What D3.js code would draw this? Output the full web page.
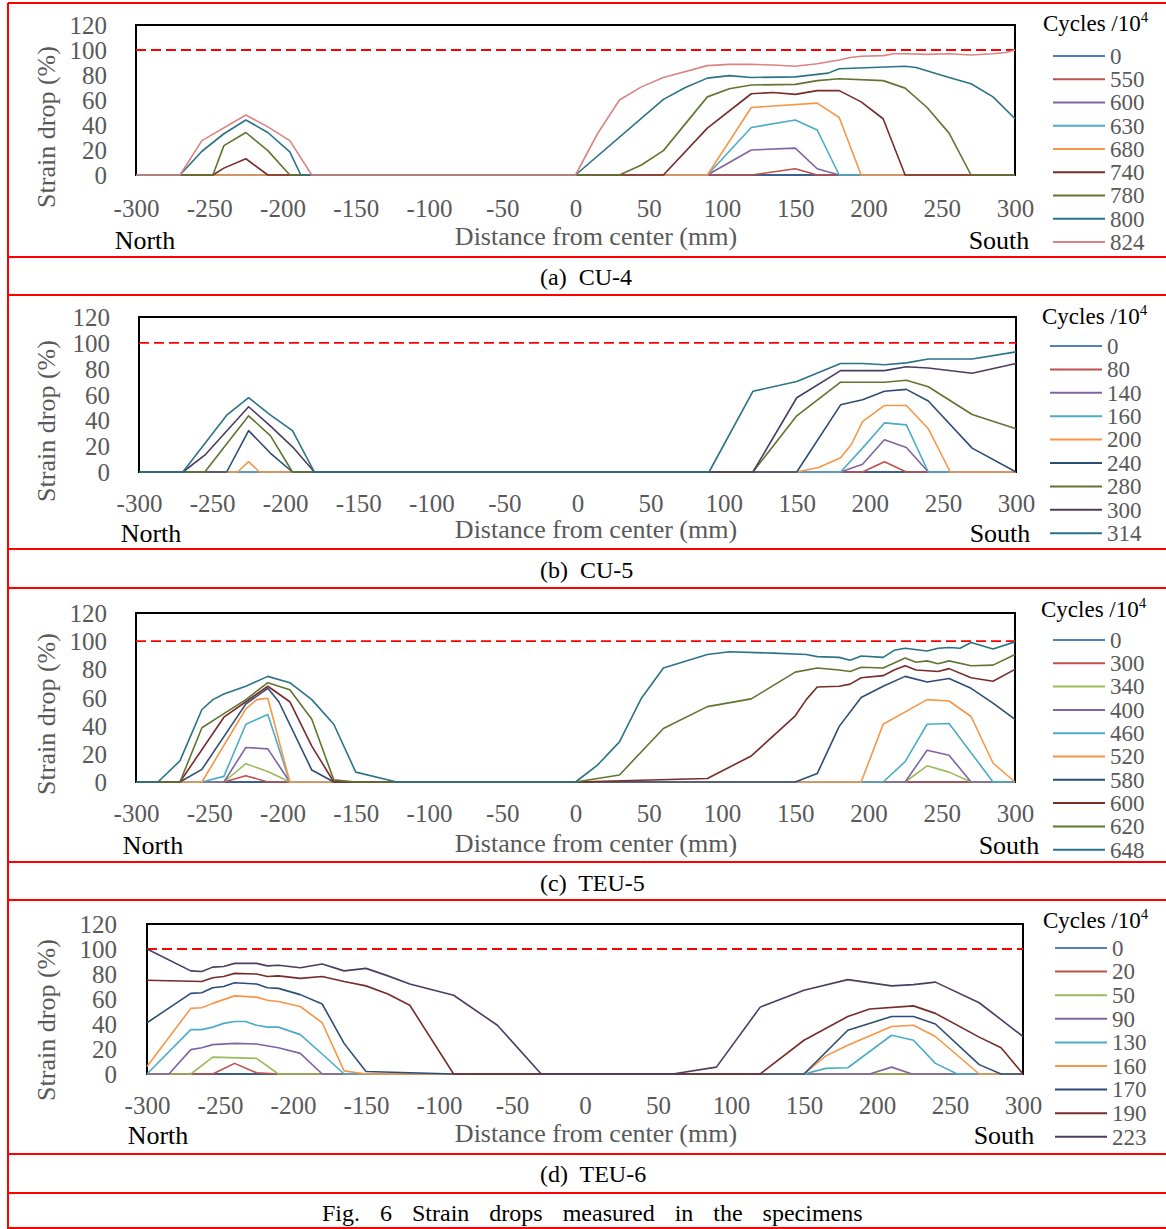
<!DOCTYPE html>
<html><head><meta charset="utf-8">
<script src="https://cdn.jsdelivr.net/npm/d3@7"></script>
<style>
body{margin:0;background:#fff}
svg{display:block}
text{font-family:"Liberation Serif","Times New Roman",serif;white-space:pre}
</style>
</head><body>
<svg id="c" width="1166" height="1229"></svg>
<script>
// ---------- shared axis values ----------
const xTicks = [-300,-250,-200,-150,-100,-50,0,50,100,150,200,250,300];
const yTicks = [0,20,40,60,80,100,120];
const limitValue = 100;

// ---------- (a) CU-4 ----------
const cu4Cycles = ["0","550","600","630","680","740","780","800","824"];
const cu4Series = [
  [[-300,0],[300,0]],
  [[-300,0],[120,0],[150,5],[165,0],[300,0]],
  [[-300,0],[90,0],[120,20],[150,21.5],[165,5],[180,0],[300,0]],
  [[-300,0],[90,0],[120,38],[150,44],[165,36],[180,0],[300,0]],
  [[-300,0],[90,0],[120,54],[165,57.5],[180,46],[195,0],[300,0]],
  [[-300,0],[-247.5,0],[-240,5.5],[-225,13],[-210,0],[60,0],[90,37.5],[120,65],[135,66],[150,64.5],[165,67.5],[180,67.5],[195,58.5],[210,45],[225,0],[300,0]],
  [[-300,0],[-247.5,0],[-240,23.5],[-225,34],[-210,19.5],[-195,0],[30,0],[45,8],[60,19.5],[90,62.5],[105,69],[120,72],[150,72.5],[165,75.5],[180,77],[210,75.5],[225,69.5],[240,54],[255,33.5],[270,0],[300,0]],
  [[-300,0],[-270,0],[-255,19],[-240,33],[-225,44],[-210,34],[-195,18.5],[-187.5,0],[0,0],[60,60.5],[75,70],[90,77.5],[105,79.5],[120,78],[150,78.5],[172.5,81.5],[180,85],[225,87],[232.5,86],[255,78],[270,73],[285,62.5],[300,45]],
  [[-300,0],[-270,0],[-255,27.5],[-225,48],[-210,38.5],[-195,27.5],[-180,0],[0,0],[15,33],[30,60],[45,70.5],[60,78],[90,87.5],[105,88.5],[120,88.5],[135,88],[150,87],[165,89],[180,92],[187.5,94],[195,95],[210,95.5],[217.5,97],[225,97],[240,96.5],[255,97],[270,96],[285,97],[294,98],[300,100]]
];

// ---------- (b) CU-5 ----------
const cu5Cycles = ["0","80","140","160","200","240","280","300","314"];
const cu5Series = [
  [[-300,0],[300,0]],
  [[-300,0],[195,0],[210,8],[225,0],[300,0]],
  [[-300,0],[180,0],[195,6],[210,25],[225,19],[240,0],[300,0]],
  [[-300,0],[180,0],[195,18.5],[210,38],[225,36.5],[240,0],[300,0]],
  [[-300,0],[-232.5,0],[-225,8],[-217.5,0],[150,0],[165,3.5],[180,11],[187.5,21.5],[195,39],[210,51.5],[225,51.5],[240,33.5],[255,0],[300,0]],
  [[-300,0],[-240,0],[-225,32],[-210,14.5],[-195,0],[150,0],[180,52],[195,56],[210,62.5],[225,64],[240,55],[270,18.5],[300,0]],
  [[-300,0],[-255,0],[-225,43.5],[-210,28],[-195,0],[120,0],[150,43.5],[180,69.5],[210,69.5],[225,71],[240,66],[270,44.5],[300,33.5]],
  [[-300,0],[-270,0],[-255,13],[-225,50.5],[-210,35.5],[-195,19.5],[-180,0],[120,0],[150,57.5],[180,78.5],[210,78.5],[225,81.5],[240,80.5],[270,76.5],[300,84]],
  [[-300,0],[-270,0],[-240,44],[-225,57.5],[-210,44],[-195,32],[-180,0],[90,0],[120,62.5],[150,70],[180,84],[195,84],[210,83],[225,84.5],[240,87.5],[270,87.5],[300,93]]
];

// ---------- (c) TEU-5 ----------
const teu5Cycles = ["0","300","340","400","460","520","580","600","620","648"];
const teu5Series = [
  [[-300,0],[300,0]],
  [[-300,0],[-240,0],[-225,4.5],[-210,0],[300,0]],
  [[-300,0],[-240,0],[-225,13],[-210,7.5],[-195,0],[225,0],[240,11.5],[255,7],[270,0],[300,0]],
  [[-300,0],[-240,0],[-225,24.5],[-210,23.5],[-195,0],[225,0],[240,22.5],[255,19],[270,0],[300,0]],
  [[-300,0],[-255,0],[-240,4],[-225,41],[-210,48],[-195,0],[210,0],[225,14.5],[240,41],[255,41.5],[285,0],[300,0]],
  [[-300,0],[-255,0],[-225,52],[-217.5,58.5],[-210,59.5],[-195,0],[195,0],[210,41],[240,58.5],[255,57.5],[270,46.5],[285,13.5],[300,0]],
  [[-300,0],[-270,0],[-255,9],[-225,55.5],[-210,66.5],[-202.5,57],[-180,8.5],[-165,0],[150,0],[165,6],[180,39.5],[195,60],[210,68],[225,75],[240,71],[255,73.5],[270,66.5],[285,56],[300,44.5]],
  [[-300,0],[-270,0],[-240,46],[-225,57],[-210,68],[-195,57],[-180,25.5],[-165,0],[0,0],[90,2.5],[120,18.5],[150,47],[157.5,58.5],[165,67.5],[180,68],[187.5,69.5],[195,74],[210,75.5],[217.5,79.5],[225,82.5],[232.5,79.5],[240,79],[247.5,78.5],[255,80.5],[270,74],[285,71.5],[300,80]],
  [[-300,0],[-270,0],[-255,38.5],[-240,48.5],[-225,58.5],[-210,70.5],[-195,65.5],[-180,44.5],[-165,1.5],[-150,0],[0,0],[30,5],[60,38],[90,53.5],[120,59],[150,78],[165,81],[180,79.5],[187.5,78.5],[195,81.5],[210,81],[217.5,84.5],[225,88],[232.5,85],[240,86],[247.5,84],[255,86],[270,82.5],[285,83],[300,90.5]],
  [[-300,0],[-285,0],[-270,15],[-255,51.5],[-247.5,58.5],[-240,62.5],[-225,68],[-210,75],[-195,70.5],[-180,58.5],[-165,41],[-150,7],[-122,0],[0,0],[15,12],[30,28.5],[45,59.5],[60,81],[90,90.5],[105,92.5],[135,91.5],[157.5,90.5],[165,89],[180,88.5],[187.5,86.5],[195,89.5],[210,88.5],[217.5,93.5],[225,95],[240,93],[247.5,95],[255,95.5],[262.5,95],[270,99],[285,94.5],[300,99.5]]
];

// ---------- (d) TEU-6 ----------
const teu6Cycles = ["0","20","50","90","130","160","170","190","223"];
const teu6Series = [
  [[-300,0],[300,0]],
  [[-300,0],[-255,0],[-240,8.5],[-225,1],[-210,0],[300,0]],
  [[-300,0],[-270,0],[-255,13.5],[-225,12.5],[-210,0],[300,0]],
  [[-300,0],[-285,0],[-270,19.5],[-262.5,21],[-255,23.5],[-240,24.5],[-225,24],[-210,21],[-195,16.5],[-180,0],[195,0],[210,5.5],[224,0],[300,0]],
  [[-300,0],[-270,35.5],[-262.5,35.5],[-255,37.5],[-247.5,40.5],[-240,42],[-232.5,42],[-225,39],[-217.5,37.5],[-210,37.5],[-195,31.5],[-180,16],[-165,0],[150,0],[165,4.5],[180,5],[210,31],[225,27],[240,8.5],[255,0],[300,0]],
  [[-300,6],[-270,52.5],[-262.5,53],[-255,56.5],[-240,62.5],[-225,61.5],[-217.5,59],[-210,58],[-195,54],[-180,41],[-165,2.5],[-150,0],[150,0],[165,14.5],[180,23],[210,38],[225,39],[240,30],[270,0],[300,0]],
  [[-300,41],[-270,64.5],[-262.5,65],[-255,69],[-247.5,70],[-240,73],[-225,72],[-217.5,69],[-210,68.5],[-195,63.5],[-180,56],[-165,24.5],[-150,2],[-90,0],[150,0],[180,35],[210,46],[225,46],[240,40],[270,7.5],[285,0],[300,0]],
  [[-300,75],[-262.5,74],[-255,77],[-247.5,78],[-240,80.5],[-225,80],[-217.5,78],[-210,78.5],[-195,76.5],[-180,78],[-165,74],[-150,70.5],[-135,64],[-120,55],[-90,0],[120,0],[150,27],[180,46],[195,52],[225,54.5],[240,48.5],[270,29.5],[285,21],[300,0]],
  [[-300,100],[-270,82.5],[-262.5,82],[-255,85.5],[-247.5,86],[-240,88.5],[-225,88.5],[-217.5,86.5],[-210,87],[-195,85],[-180,88],[-165,82.5],[-150,84.5],[-135,78.5],[-120,72],[-90,63],[-60,39],[-30,0],[60,0],[90,5.5],[120,53.5],[150,67],[180,75.5],[210,70.5],[225,71.5],[240,73.5],[270,57],[300,30]]
];

// ---------- colours ----------
const C = {blue:"#4F81BD",red:"#C0504D",green:"#9BBB59",purple:"#8064A2",aqua:"#4BACC6",orange:"#F79646",
  dblue:"#2C4D75",dred:"#772C2A",dgreen:"#5F7530",dpurple:"#4D3B62",dteal:"#2A7386",pink:"#DA8582"};
const cu4Colors  = [C.blue,C.red,C.purple,C.aqua,C.orange,C.dred,C.dgreen,C.dteal,C.pink];
const cu5Colors  = [C.blue,C.red,C.purple,C.aqua,C.orange,C.dblue,C.dgreen,C.dpurple,C.dteal];
const teu5Colors = [C.blue,C.red,C.green,C.purple,C.aqua,C.orange,C.dblue,C.dred,C.dgreen,C.dteal];
const teu6Colors = [C.blue,C.red,C.green,C.purple,C.aqua,C.orange,C.dblue,C.dred,C.dpurple];

const svg = d3.select("#c");
const GRAY = "#595959";
const FONT = "Liberation Serif";

// frame
const frameH = [3,257,295,549,588,862,900,1154,1193,1228];
frameH.forEach(y=>svg.append("line").attr("x1",8).attr("x2",1166).attr("y1",y).attr("y2",y).attr("stroke","#FF0000").attr("stroke-width",2));
svg.append("line").attr("x1",8).attr("x2",8).attr("y1",3).attr("y2",1229).attr("stroke","#FF0000").attr("stroke-width",2);

function drawPanel(L, cycles, series, colors, caption){
  const x = d3.scaleLinear().domain([-300,300]).range([L.left,L.right]);
  const y = d3.scaleLinear().domain([0,120]).range([L.bottom,L.top]);
  const g = svg.append("g").attr("font-family",FONT);
  // box
  g.append("rect").attr("x",L.left).attr("y",L.top).attr("width",L.right-L.left).attr("height",L.bottom-L.top)
    .attr("fill","none").attr("stroke","#000").attr("stroke-width",2);
  // y axis labels
  const ya = d3.axisLeft(y).tickValues(yTicks).tickSize(0).tickPadding(L.left-L.yLabRight);
  const yg = g.append("g").attr("transform",`translate(${L.left},0)`).call(ya).attr("font-family",FONT);
  yg.select(".domain").remove();
  yg.selectAll("text").attr("font-family",FONT).attr("font-size",25).attr("fill",GRAY).attr("dy","0.34em");
  // x axis labels
  const xa = d3.axisBottom(x).tickValues(xTicks).tickSize(0).tickPadding(0).tickFormat(d3.format("d"));
  const xg = g.append("g").attr("transform",`translate(0,${L.xLabY})`).call(xa).attr("font-family",FONT);
  xg.select(".domain").remove();
  xg.selectAll("text").attr("font-family",FONT).attr("font-size",25).attr("fill",GRAY).attr("dy","0.34em").text(d=>String(d));
  // limit line
  g.append("line").attr("x1",L.left).attr("x2",L.right).attr("y1",y(limitValue)).attr("y2",y(limitValue))
    .attr("stroke","#FF0000").attr("stroke-width",1.8).attr("stroke-dasharray","10,5");
  // series
  const line = d3.line().x(d=>x(d[0])).y(d=>y(d[1]));
  series.forEach((s,i)=>{
    g.append("path").attr("d",line(s)).attr("fill","none").attr("stroke",colors[i]).attr("stroke-width",1.6).attr("stroke-linejoin","round");
  });
  // axis titles
  g.append("text").attr("font-family",FONT).attr("x",L.northX).attr("y",L.nsY).attr("dy","0.34em").attr("text-anchor","middle").attr("font-size",26).attr("fill","#000").text("North");
  g.append("text").attr("font-family",FONT).attr("x",L.southX).attr("y",L.nsY).attr("dy","0.34em").attr("text-anchor","middle").attr("font-size",26).attr("fill","#000").text("South");
  g.append("text").attr("font-family",FONT).attr("x",596).attr("y",L.distY).attr("dy","0.34em").attr("text-anchor","middle").attr("font-size",26).attr("fill",GRAY).text("Distance from center (mm)");
  g.append("text").attr("font-family",FONT).attr("transform",`translate(46,${L.yTitleY}) rotate(-90)`).attr("dy","0.34em").attr("text-anchor","middle").attr("font-size",26).attr("fill",GRAY).text("Strain drop (%)");
  // legend
  const t = g.append("text").attr("font-family",FONT).attr("x",L.legTitleX).attr("y",L.legTitleY).attr("dy","0.34em").attr("font-size",23).attr("fill","#000");
  t.append("tspan").text("Cycles /10");
  t.append("tspan").attr("font-size",15).attr("dy",-9).text("4");
  cycles.forEach((c,i)=>{
    const yy = L.legY0 + i*L.legStep;
    g.append("line").attr("x1",L.legX).attr("x2",L.legX+52).attr("y1",yy).attr("y2",yy).attr("stroke",colors[i]).attr("stroke-width",2);
    g.append("text").attr("font-family",FONT).attr("x",L.legX+57).attr("y",yy).attr("dy","0.34em").attr("font-size",23).attr("fill",GRAY).text(c);
  });
  // caption
  svg.append("text").attr("font-family",FONT).attr("x",540).attr("y",L.capY).attr("dy","0.34em").attr("font-size",24).attr("fill","#000").text(caption);
}

drawPanel({left:136,right:1015,top:25,bottom:175,yLabRight:107,xLabY:208,nsY:240,distY:236,northX:145,southX:999,yTitleY:127,
  legX:1053,legTitleX:1043,legTitleY:23,legY0:56,legStep:23.25,capY:277}, cu4Cycles, cu4Series, cu4Colors, "(a)  CU-4");
drawPanel({left:139,right:1016,top:317,bottom:472,yLabRight:110,xLabY:503,nsY:533,distY:529,northX:151,southX:1000,yTitleY:421,
  legX:1050,legTitleX:1042,legTitleY:316,legY0:346,legStep:23.4,capY:570}, cu5Cycles, cu5Series, cu5Colors, "(b)  CU-5");
drawPanel({left:136,right:1015,top:613,bottom:782,yLabRight:107,xLabY:813,nsY:845,distY:843,northX:153,southX:1009,yTitleY:714,
  legX:1053,legTitleX:1041,legTitleY:609,legY0:640,legStep:23.3,capY:883}, teu5Cycles, teu5Series, teu5Colors, "(c)  TEU-5");
drawPanel({left:147,right:1023,top:924,bottom:1074,yLabRight:117,xLabY:1105,nsY:1135,distY:1133,northX:158,southX:1004,yTitleY:1020,
  legX:1055,legTitleX:1043,legTitleY:920,legY0:948,legStep:23.6,capY:1174}, teu6Cycles, teu6Series, teu6Colors, "(d)  TEU-6");

svg.append("text").attr("font-family",FONT).attr("x",322).attr("y",1213).attr("dy","0.34em").attr("font-size",24).attr("word-spacing",14).attr("fill","#000")
  .text("Fig. 6 Strain drops measured in the specimens");
</script>
</body></html>
